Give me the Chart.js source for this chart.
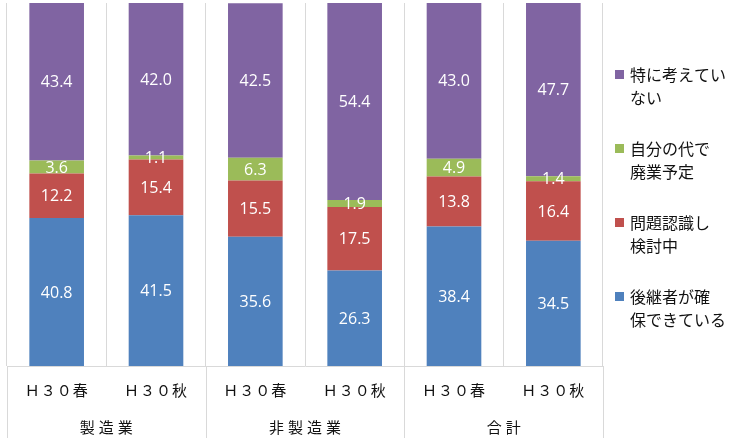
<!DOCTYPE html>
<html>
<head>
<meta charset="utf-8">
<script src="https://cdn.jsdelivr.net/npm/chart.js@4/dist/chart.umd.min.js"></script>
<style>
  html, body { margin: 0; padding: 0; background: #fff; }
  #wrap { width: 731px; height: 438px; position: relative; }
</style>
</head>
<body>
<div id="wrap"><canvas id="chart"></canvas></div>
<script>
// categories
const periods = ['Ｈ３０春', 'Ｈ３０秋', 'Ｈ３０春', 'Ｈ３０秋', 'Ｈ３０春', 'Ｈ３０秋'];
const groups = ['製造業', '非製造業', '合計'];

// series (percent)
const secured   = [40.8, 41.5, 35.6, 26.3, 38.4, 34.5];
const reviewing = [12.2, 15.4, 15.5, 17.5, 13.8, 16.4];
const closing   = [3.6, 1.1, 6.3, 1.9, 4.9, 1.4];
const noPlan    = [43.4, 42.0, 42.5, 54.4, 43.0, 47.7];

// legend text, wrapped like the original
const legendLines = [
  ['後継者が確', '保できている'],
  ['問題認識し', '検討中'],
  ['自分の代で', '廃業予定'],
  ['特に考えてい', 'ない']
];

const jpFont = '"Noto Sans CJK JP", "Noto Sans", sans-serif';
const gridColor = '#D9D9D9';

// white value labels in the middle of each segment
const valueLabels = {
  id: 'valueLabels',
  afterDatasetsDraw(chart) {
    const ctx = chart.ctx;
    ctx.save();
    ctx.fillStyle = '#fff';
    ctx.font = '16px "Open Sans", "Noto Sans", sans-serif';
    ctx.textAlign = 'center';
    ctx.textBaseline = 'middle';
    chart.data.datasets.forEach((ds, i) => {
      chart.getDatasetMeta(i).data.forEach((bar, j) => {
        const y = (bar.y + bar.base) / 2;
        ctx.fillText(ds.data[j].toFixed(1), bar.x, y + 1);
      });
    });
    ctx.restore();
  }
};

// two-level category axis + legend at right
const axisAndLegend = {
  id: 'axisAndLegend',
  afterDraw(chart) {
    const ctx = chart.ctx;
    const area = chart.chartArea;
    const x = chart.scales.x;
    const step = x.getPixelForValue(1) - x.getPixelForValue(0);
    ctx.save();

    // group separators running down through the label area
    ctx.strokeStyle = gridColor;
    ctx.lineWidth = 1;
    for (let g = 0; g <= groups.length; g++) {
      const px = Math.round(x.getPixelForValue(g * 2) - step / 2) + 0.5;
      ctx.beginPath();
      ctx.moveTo(px, area.bottom);
      ctx.lineTo(px, chart.height);
      ctx.stroke();
    }

    ctx.fillStyle = '#111';
    ctx.textAlign = 'center';
    ctx.textBaseline = 'middle';
    ctx.font = '15px ' + jpFont;
    ctx.letterSpacing = '1px';
    periods.forEach((p, i) => {
      ctx.fillText(p, x.getPixelForValue(i), area.bottom + 24);
    });
    ctx.letterSpacing = '4px';
    groups.forEach((g, i) => {
      const cx = (x.getPixelForValue(i * 2) + x.getPixelForValue(i * 2 + 1)) / 2;
      ctx.fillText(g, cx + 2, area.bottom + 61);
    });
    ctx.letterSpacing = '0px';

    // legend, top to bottom in reverse stacking order
    const colors = chart.data.datasets.map(d => d.backgroundColor);
    ctx.textAlign = 'left';
    ctx.font = '16px ' + jpFont;
    for (let k = 0; k < legendLines.length; k++) {
      const idx = legendLines.length - 1 - k;
      const top = 75 + k * 74;
      ctx.fillStyle = colors[idx];
      ctx.fillRect(615, top - 5, 9, 9);
      ctx.fillStyle = '#111';
      legendLines[idx].forEach((line, n) => {
        ctx.fillText(line, 630, top + n * 23);
      });
    }
    ctx.restore();
  }
};

new Chart(document.getElementById('chart'), {
  type: 'bar',
  data: {
    labels: periods,
    datasets: [
      { label: legendLines[0].join(''), data: secured,   backgroundColor: '#4F81BD' },
      { label: legendLines[1].join(''), data: reviewing, backgroundColor: '#C0504D' },
      { label: legendLines[2].join(''), data: closing,   backgroundColor: '#9BBB59' },
      { label: legendLines[3].join(''), data: noPlan,    backgroundColor: '#8064A2' }
    ]
  },
  options: {
    responsive: true,
    maintainAspectRatio: false,
    animation: false,
    layout: { padding: { left: 7, right: 128, top: 3, bottom: 72 } },
    datasets: { bar: { categoryPercentage: 1, barPercentage: 0.55 } },
    plugins: { legend: { display: false }, tooltip: { enabled: false } },
    scales: {
      x: {
        stacked: true,
        ticks: { display: false },
        grid: { color: gridColor, drawTicks: false, offset: true },
        border: { color: gridColor }
      },
      y: { stacked: true, display: false, min: 0, max: 100 }
    }
  },
  plugins: [valueLabels, axisAndLegend]
});
</script>
</body>
</html>
